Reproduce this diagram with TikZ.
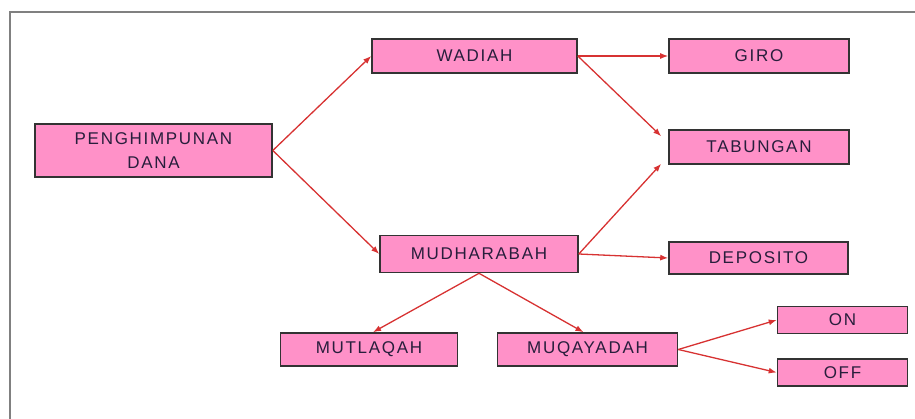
\documentclass[tikz,border=0pt]{standalone}
\usepackage{fontspec}
\setmainfont{Liberation Sans}
\usetikzlibrary{calc,arrows.meta}
\definecolor{boxpink}{RGB}{255,145,200}
\definecolor{arrred}{RGB}{215,50,50}
\definecolor{txt}{RGB}{40,30,60}
\tikzset{
  box/.style={draw=black!80,line width=1.6pt,fill=boxpink,inner sep=0pt,align=center,
    text=txt,font=\fontsize{17}{24}\selectfont\addfontfeature{LetterSpace=10}},
  arr/.style={-{Latex[length=8pt,width=6pt]},draw=arrred,line width=1.3pt}
}
\begin{document}
\begin{tikzpicture}[x=1pt,y=-1pt]
        \useasboundingbox (0,0) rectangle (915,419);
        \draw[gray,line width=2pt] (10,419) -- (10,12) -- (915,12);
        \node[box,minimum width=237pt,minimum height=53pt] (pd) at (153.5,150.5) {PENGHIMPUNAN\\DANA};
        \node[box,minimum width=205pt,minimum height=34pt] (wadiah) at (474.5,56) {WADIAH};
        \node[box,minimum width=180pt,minimum height=34pt] (giro) at (759,56) {GIRO};
        \node[box,minimum width=180pt,minimum height=34pt] (tabungan) at (759,147) {TABUNGAN};
        \node[box,minimum width=198pt,minimum height=37pt] (mudharabah) at (479,254) {MUDHARABAH};
        \node[box,minimum width=179pt,minimum height=32pt] (deposito) at (758.5,258) {DEPOSITO};
        \node[box,minimum width=177pt,minimum height=33pt] (mutlaqah) at (369,349.5) {MUTLAQAH};
        \node[box,minimum width=180pt,minimum height=33pt] (muqayadah) at (587.5,349.5) {MUQAYADAH};
        \node[box,minimum width=130pt,minimum height=27pt] (on) at (842.5,320) {ON};
        \node[box,minimum width=130pt,minimum height=27pt] (off) at (842.5,372.5) {OFF};
        \draw[arr] (pd.east) -- (wadiah.west);
        \draw[arr] (pd.east) -- (mudharabah.west);
        \draw[arr] (wadiah.east) -- (giro.west);
        \draw[arr] (wadiah.east) -- ($(tabungan.north west)+(-7,7)$);
        \draw[arr] (mudharabah.east) -- ($(tabungan.south west)+(-7,-1)$);
        \draw[arr] (mudharabah.east) -- (deposito.west);
        \draw[arr] (mudharabah.south) -- ($(mutlaqah.north)+(4,0)$);
        \draw[arr] (mudharabah.south) -- ($(muqayadah.north)+(-4,0)$);
        \draw[arr] (muqayadah.east) -- (on.west);
        \draw[arr] (muqayadah.east) -- (off.west);
\end{tikzpicture}
\end{document}
